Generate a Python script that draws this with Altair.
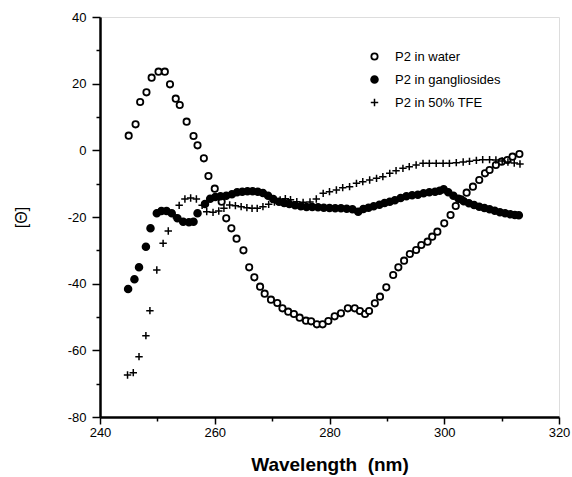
import altair as alt
import pandas as pd

# P2 in water (open circles)
water_nm = [245.0, 246.2, 247.0, 248.1, 249.0, 250.2, 251.3, 252.2, 253.2, 253.9, 255.1, 256.3, 257.0,
            258.1, 258.9, 260.0, 261.2, 262.0, 262.9, 263.8, 265.0, 266.0, 266.9, 267.9, 268.7, 269.8,
            270.9, 271.8, 272.8, 273.8, 274.8, 275.9, 276.8, 277.8, 278.8, 279.8, 280.9, 282.0, 283.2,
            284.4, 285.3, 286.2, 286.9, 287.9, 288.8, 289.9, 291.1, 292.0, 293.0, 294.0, 295.1, 296.0,
            297.1, 297.9, 298.8, 300.0, 301.1, 302.0, 302.9, 303.9, 305.0, 306.1, 307.1, 307.9, 309.0,
            310.0, 311.0, 311.9, 313.1]
water_val = [4.4, 7.8, 14.5, 17.4, 21.8, 23.6, 23.6, 19.8, 15.5, 13.6, 8.6, 4.3, 1.5,
             -2.4, -7.7, -11.5, -15.4, -20.4, -23.4, -26.5, -30.0, -35.1, -38.1, -40.9, -43.0, -44.8,
             -45.8, -47.4, -48.4, -49.1, -50.2, -51.1, -51.3, -52.2, -52.2, -51.2, -49.8, -48.9, -47.4,
             -47.4, -48.2, -49.1, -48.2, -45.9, -43.9, -41.1, -37.4, -35.1, -33.1, -31.1, -29.9, -28.4,
             -27.4, -25.9, -24.4, -21.9, -19.4, -16.7, -14.7, -12.7, -10.9, -8.9, -6.9, -5.9, -4.4,
             -3.4, -2.9, -1.9, -1.1]

# P2 in gangliosides (filled circles)
gang_nm = [244.9, 246.0, 246.8, 248.0, 248.8, 249.9, 250.7, 251.6, 252.5, 253.5, 254.5, 255.5, 256.3,
           257.0, 258.3, 259.2, 260.1, 261.0, 262.0, 263.0, 263.9, 264.8, 265.7, 266.6, 267.5, 268.4,
           269.3, 270.2, 271.2, 272.1, 273.0, 274.0, 275.0, 276.0, 277.0, 278.0, 279.0, 280.0, 281.0,
           282.0, 283.0, 284.0, 285.0, 285.9, 286.8, 287.7, 288.7, 289.6, 290.5, 291.4, 292.4, 293.4,
           294.4, 295.4, 296.4, 297.4, 298.4, 299.2, 299.9, 300.7, 301.6, 302.5, 303.4, 304.3, 305.2,
           306.1, 307.0, 307.9, 308.8, 309.7, 310.6, 311.5, 312.3, 313.0]
gang_val = [-41.6, -38.7, -35.1, -28.9, -23.4, -18.9, -18.2, -18.2, -18.9, -20.4, -21.4, -21.6, -21.4,
            -18.9, -16.1, -14.5, -14.0, -13.8, -13.6, -13.2, -12.6, -12.4, -12.3, -12.3, -12.4, -12.8,
            -13.6, -14.6, -15.4, -15.8, -16.1, -16.5, -16.8, -17.0, -17.0, -17.1, -17.2, -17.3, -17.4,
            -17.4, -17.5, -17.7, -18.4, -17.6, -17.2, -16.8, -16.3, -15.8, -15.4, -15.0, -14.3, -13.8,
            -13.5, -13.3, -12.9, -12.6, -12.4, -12.1, -11.7, -12.6, -13.6, -14.5, -15.3, -15.9, -16.4,
            -16.9, -17.3, -17.7, -18.1, -18.6, -18.9, -19.2, -19.4, -19.5]

# P2 in 50% TFE (crosses)
tfe_nm = [244.8, 245.8, 246.8, 248.0, 248.7, 249.9, 251.0, 251.9, 252.8, 253.8, 254.8, 255.8, 256.8,
          257.8, 258.6, 259.7, 260.7, 261.6, 262.6, 263.6, 264.6, 265.6, 266.5, 267.4, 268.4, 269.4,
          270.4, 271.4, 272.3, 273.2, 274.3, 275.4, 276.6, 277.7, 278.9, 280.0, 281.2, 282.3, 283.5,
          284.7, 285.8, 287.0, 288.2, 289.3, 290.5, 291.6, 292.8, 293.9, 295.1, 296.3, 297.4, 298.6,
          299.8, 300.9, 302.1, 303.3, 304.4, 305.6, 306.7, 307.9, 309.0, 310.1, 311.1, 312.2, 313.2]
tfe_val = [-67.4, -66.7, -61.9, -55.6, -48.1, -35.9, -27.9, -24.2, -19.4, -16.5, -14.6, -14.3, -14.6,
           -16.5, -18.4, -18.6, -18.2, -17.4, -16.4, -16.6, -16.9, -17.2, -17.4, -17.4, -16.9, -16.2,
           -15.5, -14.9, -14.5, -14.8, -15.4, -15.6, -15.5, -14.6, -12.9, -12.4, -11.9, -11.2, -10.9,
           -9.9, -9.4, -8.9, -8.4, -7.9, -6.9, -6.1, -5.4, -4.9, -4.4, -3.9, -3.9, -3.9,
           -3.9, -3.9, -3.7, -3.5, -3.3, -3.0, -2.8, -2.8, -2.9, -3.2, -3.5, -3.8, -4.1]

series_names = ["P2 in water", "P2 in gangliosides", "P2 in 50% TFE"]
x_ticks = list(range(240, 321, 10))
y_ticks = list(range(-80, 41, 10))

rows = []
for name, xs, ys in zip(series_names, [water_nm, gang_nm, tfe_nm], [water_val, gang_val, tfe_val]):
    for a, b in zip(xs, ys):
        rows.append({"nm": a, "theta": b, "series": name})
df = pd.DataFrame(rows)

FONT = "Liberation Sans"
plus_path = "M-1,0L1,0M0,-1L0,1"


def make_legend():
    return alt.Legend(title=None, orient="none", legendX=268, legendY=33,
                      labelFont=FONT, labelFontSize=13, labelColor="black",
                      rowPadding=8, labelOffset=14, padding=0)


chart = alt.Chart(df).mark_point(opacity=1).encode(
    x=alt.X("nm:Q",
            scale=alt.Scale(domain=[240, 320], nice=False, zero=False),
            axis=alt.Axis(values=x_ticks, grid=False, labelFlush=False,
                          labelExpr="datum.value % 20 == 0 ? '' + datum.value : ''",
                          tickSize={"condition": {"test": "datum.value % 20 == 0", "value": 7}, "value": 4},
                          tickWidth=1.5, tickColor="black", domainWidth=2.5, domainColor="black",
                          labelFont=FONT, labelFontSize=13, labelColor="black", labelPadding=2,
                          title="Wavelength\u00a0 (nm)", titleFont=FONT, titleFontSize=19,
                          titleFontWeight="bold", titleColor="black", titlePadding=16)),
    y=alt.Y("theta:Q",
            scale=alt.Scale(domain=[-80, 40], nice=False, zero=False),
            axis=alt.Axis(values=y_ticks, grid=False, labelFlush=False,
                          labelExpr="datum.value % 20 == 0 ? '' + datum.value : ''",
                          tickSize={"condition": {"test": "datum.value % 20 == 0", "value": 8}, "value": 4},
                          tickWidth=1.5, tickColor="black", domainWidth=2.5, domainColor="black",
                          labelFont=FONT, labelFontSize=13, labelColor="black", labelPadding=6,
                          title="[Θ]", titleFont=FONT, titleFontSize=16, titleFontWeight="normal",
                          titleColor="black", titlePadding=38)),
    shape=alt.Shape("series:N",
                    scale=alt.Scale(domain=series_names, range=["circle", "circle", plus_path]),
                    legend=make_legend()),
    fill=alt.Fill("series:N",
                  scale=alt.Scale(domain=series_names, range=["white", "black", "transparent"]),
                  legend=make_legend()),
    stroke=alt.Stroke("series:N",
                      scale=alt.Scale(domain=series_names, range=["black", "black", "black"]),
                      legend=make_legend()),
    strokeWidth=alt.StrokeWidth("series:N",
                                scale=alt.Scale(domain=series_names, range=[1.8, 1.5, 2.2]),
                                legend=make_legend()),
    size=alt.Size("series:N",
                  scale=alt.Scale(domain=series_names, range=[40, 55, 220]),
                  legend=make_legend()),
).properties(
    width=459, height=400,
    autosize=alt.AutoSizeParams(type="none"),
    padding={"left": 100, "top": 17, "right": 13, "bottom": 60},
).configure_view(
    stroke="black", strokeWidth=2.5
).configure_axis(
    domainColor="black", domainWidth=2.5, tickColor="black"
).configure(background="white")

chart.save("out.html", embed_options={"renderer": "svg", "actions": False})
